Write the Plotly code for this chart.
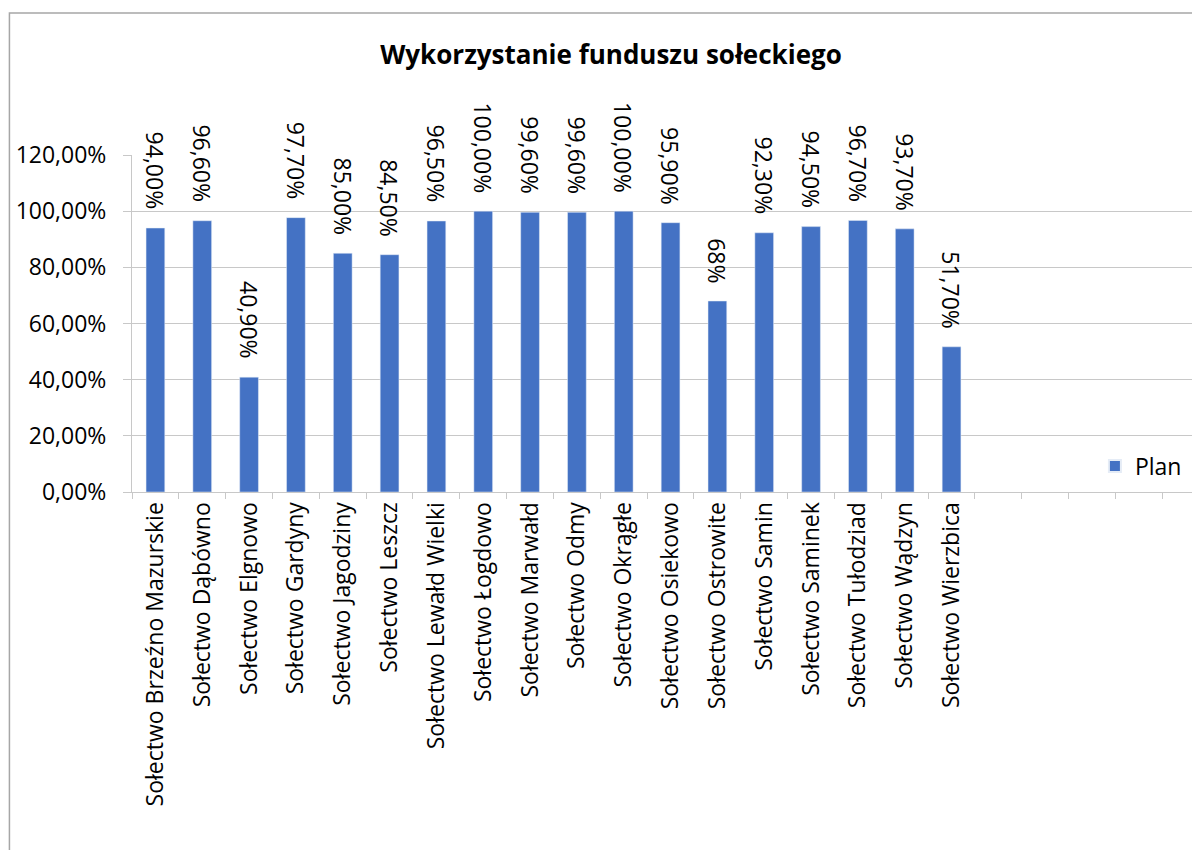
import plotly.graph_objects as go

# sołectwa (5 empty categories at the end, as in the source sheet)
villages = [
    "Sołectwo Brzeźno Mazurskie", "Sołectwo Dąbówno", "Sołectwo Elgnowo",
    "Sołectwo Gardyny", "Sołectwo Jagodziny", "Sołectwo Leszcz",
    "Sołectwo Lewałd Wielki", "Sołectwo Łogdowo", "Sołectwo Marwałd",
    "Sołectwo Odmy", "Sołectwo Okrągłe", "Sołectwo Osiekowo",
    "Sołectwo Ostrowite", "Sołectwo Samin", "Sołectwo Saminek",
    "Sołectwo Tułodziad", "Sołectwo Wądzyn", "Sołectwo Wierzbica",
]
empty_slots = [" ", "  ", "   ", "    ", "     "]

plan = [0.940, 0.966, 0.409, 0.977, 0.850, 0.845, 0.965, 1.000, 0.996,
        0.996, 1.000, 0.959, 0.680, 0.923, 0.945, 0.967, 0.937, 0.517]
plan_labels = ["94,00%", "96,60%", "40,90%", "97,70%", "85,00%", "84,50%",
               "96,50%", "100,00%", "99,60%", "99,60%", "100,00%", "95,90%",
               "68%", "92,30%", "94,50%", "96,70%", "93,70%", "51,70%"]

categories = villages + empty_slots
values = plan + [None] * len(empty_slots)

FONT = "Open Sans"
GRID = "#c8c8c8"

fig = go.Figure()
fig.add_bar(
    x=categories,
    y=values,
    name="Plan",
    marker_color="#4472C4",
    showlegend=True,
)

for name, val, lab in zip(villages, plan, plan_labels):
    fig.add_annotation(
        x=name, y=val, text=lab,
        textangle=90, showarrow=False,
        yanchor="bottom", yshift=16,
        font=dict(family=FONT, size=23, color="#000000"),
    )

# outer chart frame (as in the spreadsheet export)
fig.add_shape(
    type="rect", xref="paper", yref="paper",
    x0=-0.1152, x1=1.2, y0=-1.2, y1=1.4214,
    line=dict(color="#a6a6a6", width=1.5), layer="below",
)

fig.update_layout(
    width=1200, height=850,
    margin=dict(l=124, r=8, t=147, b=366),
    separators=", ",
    paper_bgcolor="white",
    plot_bgcolor="white",
    bargap=0.6,
    font=dict(family=FONT, size=22, color="#000000"),
    title=dict(
        text="<b>Wykorzystanie funduszu sołeckiego</b>",
        x=0.5025, xref="container", xanchor="center",
        y=0.945, yref="container", yanchor="middle",
        font=dict(family=FONT, size=26, color="#000000"),
    ),
    legend=dict(
        x=0.905, y=0.077, xanchor="left", yanchor="middle",
        bgcolor="rgba(0,0,0,0)", font=dict(size=23),
        itemsizing="constant",
    ),
    xaxis=dict(
        type="category",
        categoryorder="array", categoryarray=categories,
        range=[-0.5, 22.22],
        tickangle=-90,
        tickson="boundaries",
        ticks="outside", ticklen=6, tickcolor=GRID,
        showline=True, linecolor=GRID, linewidth=1,
        showgrid=False,
        tickfont=dict(family=FONT, size=23),
    ),
    yaxis=dict(
        range=[0, 1.2], dtick=0.2,
        tickformat=".2%",
        ticks="outside", ticklen=8, tickcolor=GRID,
        ticklabelstandoff=12,
        showline=True, linecolor=GRID, linewidth=1,
        showgrid=True, gridcolor=GRID, gridwidth=1,
        zeroline=False,
        tickfont=dict(family=FONT, size=23),
    ),
)

fig.write_html("out.html")
